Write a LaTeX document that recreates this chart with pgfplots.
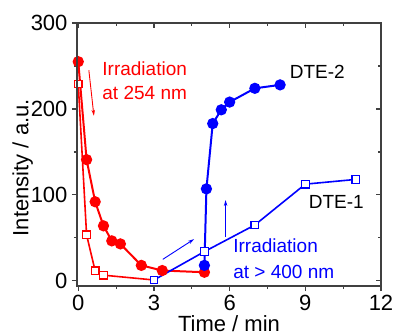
\documentclass[border=0pt]{standalone}
\usepackage{fontspec}
\setmainfont{Liberation Sans}
\usepackage{pgfplots}
\pgfplotsset{compat=1.18}
\usetikzlibrary{arrows.meta}
\definecolor{pr}{RGB}{255,0,0}
\definecolor{pb}{RGB}{0,0,255}
\begin{document}
\fontsize{19}{23}\selectfont
\begin{tikzpicture}
\pgfplotsset{
  common/.style={scale only axis, width=304pt, height=263pt,
    xmin=-0.05, xmax=12, ymin=-6, ymax=300,
    xtick={0,3,6,9,12}, ytick={0,100,200,300},
    minor x tick num=1, minor y tick num=1,
    major tick length=5pt, minor tick length=3pt,
    axis line style={line width=1.2pt, black!75},
    every tick/.style={line width=1.2pt, black!75},
    /pgf/number format/assume math mode=true,
    tick label style={font=\fontsize{22}{26}\selectfont}},
}
\begin{axis}[common, name=main,
    tick align=outside, xtick pos=left, ytick pos=left,
    xticklabel style={yshift=2pt},
    yticklabel style={xshift=2pt},
    xlabel={Time / min}, ylabel={Intensity / a.u.},
    label style={font=\fontsize{22}{26}\selectfont},
    xlabel style={at={(axis description cs:0.5,-0.174)}, anchor=base},
    ylabel style={at={(axis description cs:-0.16,0.45)}, anchor=base},
    clip=false]
% DTE-2, 254 nm
\addplot[pr, line width=2pt, mark=*, mark size=4.6pt, mark options={fill=pr}] coordinates {
 (0,255) (0.33,141) (0.67,92) (1,64) (1.33,46.5) (1.67,43) (2.5,18) (3.33,12) (5,10)};
% DTE-1, 254 nm
\addplot[pr, line width=1.6pt, mark=square*, mark size=3.8pt, mark options={fill=white, line width=1.2pt}] coordinates {
 (0,229) (0.33,53.5) (0.67,11.6) (1,6.6) (3,1)};
% DTE-1, >400 nm
\addplot[pb, line width=1.6pt, mark=square*, mark size=3.8pt, mark options={fill=white, line width=1.2pt}] coordinates {
 (3,1) (5,34) (7,65) (9,112.5) (11,118)};
% DTE-2, >400 nm
\addplot[pb, line width=2pt, mark=*, mark size=4.6pt, mark options={fill=pb}] coordinates {
 (5,18) (5.08,107) (5.33,183) (5.67,199) (6,208) (7,224) (8,228)};
% annotations
\node[pr, anchor=base west, inner sep=0pt] at (axis cs:0.95,238.4) {Irradiation};
\node[pr, anchor=base west, inner sep=0pt] at (axis cs:0.95,210.5) {at 254 nm};
\node[pb, anchor=base west, inner sep=0pt] at (axis cs:6.14,32.9) {Irradiation};
\node[pb, anchor=base west, inner sep=0pt] at (axis cs:6.14,3.1) {at > 400 nm};
\node[black, anchor=base west, inner sep=0pt] at (axis cs:8.38,235.7) {DTE-2};
\node[black, anchor=base west, inner sep=0pt] at (axis cs:9.13,84.5) {DTE-1};
\draw[pr, line width=0.9pt, -{Stealth[length=6pt,width=3.5pt]}] (axis cs:0.42,245) -- (axis cs:0.62,192);
\draw[pb, line width=0.9pt, -{Stealth[length=6pt,width=3.5pt]}] (axis cs:3.35,25) -- (axis cs:4.59,48.5);
\draw[pb, line width=0.9pt, -{Stealth[length=6pt,width=3.5pt]}] (axis cs:5.84,51) -- (axis cs:5.84,94);
\end{axis}
\begin{axis}[common, at={(main.south west)}, anchor=south west,
    tick align=inside, xtick pos=right, ytick pos=right,
    xticklabels={}, yticklabels={}]
\end{axis}
\pgfresetboundingbox
\path (main.south west) ++(-77pt,-49pt) rectangle ++(394pt,335pt);
\end{tikzpicture}
\end{document}
